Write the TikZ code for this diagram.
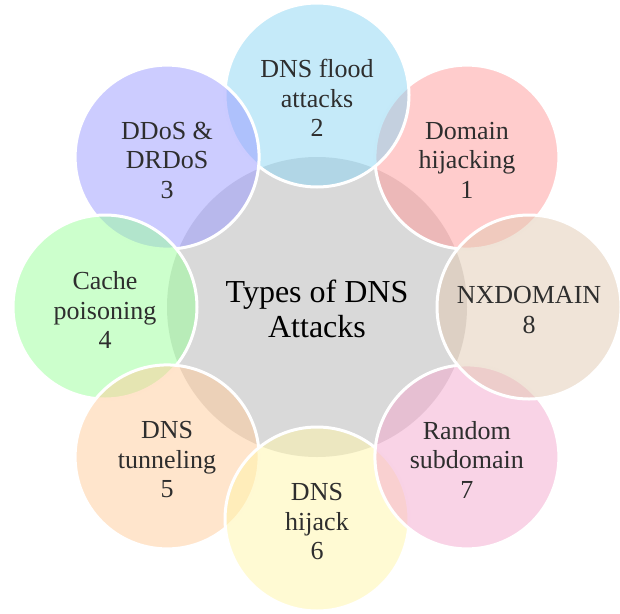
\documentclass[tikz,border=0pt]{standalone}
\usepackage{fontspec}
\setmainfont{Liberation Serif}
\usetikzlibrary{calc}
\definecolor{cA}{rgb}{1,0.6,0.6}
\definecolor{cB}{rgb}{0.545,0.835,0.953}
\definecolor{cC}{rgb}{0.6,0.6,1}
\definecolor{cD}{rgb}{0.6,1,0.6}
\definecolor{cE}{rgb}{1,0.796,0.6}
\definecolor{cF}{rgb}{1,0.96,0.66}
\definecolor{cG}{rgb}{0.953,0.655,0.804}
\definecolor{cH}{rgb}{0.882,0.788,0.694}
\definecolor{cCenter}{HTML}{D9D9D9}
\definecolor{txt}{HTML}{2E2E2E}
\tikzset{
  bubble/.style={circle, draw=white, line width=3pt, minimum size=184pt, inner sep=0pt,
    fill opacity=0.5, draw opacity=1},
  lbl/.style={align=center, text=txt, inner sep=0pt, font=\fontsize{26}{29.5}\selectfont},
  hub/.style={circle, fill=cCenter, minimum size=300pt, inner sep=0pt},
  hublbl/.style={align=center, text=black, inner sep=0pt, font=\fontsize{32}{35}\selectfont}
}
\begin{document}
\begin{tikzpicture}[x=1pt,y=-1pt]
\useasboundingbox (0,0) rectangle (620,613);
\coordinate (O) at (317,307);
\node[hub] (center) at (O) {};
\node[hublbl] (ct) at ([yshift=-2pt]center.center) {Types of DNS\\Attacks};
\node[bubble, fill=cA] (b1) at ($(O)+(45:212pt)$) {};
\node[lbl] (t1) at ([yshift=-3pt]b1.center) {Domain\\hijacking\\1};
\node[bubble, fill=cB] (b2) at ($(O)+(90:212pt)$) {};
\node[lbl] (t2) at ([yshift=-3pt]b2.center) {DNS flood\\attacks\\2};
\node[bubble, fill=cC] (b3) at ($(O)+(135:212pt)$) {};
\node[lbl] (t3) at ([yshift=-3pt]b3.center) {DDoS \&\\DRDoS\\3};
\node[bubble, fill=cD] (b4) at ($(O)+(180:212pt)$) {};
\node[lbl] (t4) at ([yshift=-3pt]b4.center) {Cache\\poisoning\\4};
\node[bubble, fill=cE] (b5) at ($(O)+(225:212pt)$) {};
\node[lbl] (t5) at ([yshift=-3pt]b5.center) {DNS\\tunneling\\5};
\node[bubble, fill=cF] (b6) at ($(O)+(270:212pt)$) {};
\node[lbl] (t6) at ([yshift=-3pt]b6.center) {DNS\\hijack\\6};
\node[bubble, fill=cG] (b7) at ($(O)+(315:212pt)$) {};
\node[lbl] (t7) at ([yshift=-3pt]b7.center) {Random\\subdomain\\7};
\node[bubble, fill=cH] (b8) at ($(O)+(0:212pt)$) {};
\node[lbl] (t8) at ([yshift=-3pt]b8.center) {NXDOMAIN\\8};
\end{tikzpicture}
\end{document}
